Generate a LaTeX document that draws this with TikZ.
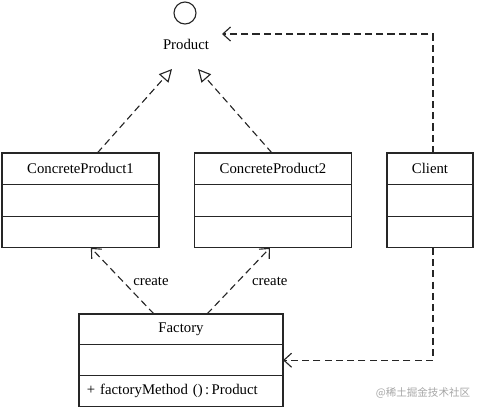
\documentclass[tikz,border=0pt]{standalone}
\usepackage{fontspec}
\setmainfont{Liberation Serif}
\newfontfamily\cjk{Noto Sans CJK SC}
\usetikzlibrary{positioning,arrows.meta}
\tikzset{
  row/.style={draw=black!85, line width=0.8pt, minimum height=0.79cm, inner sep=0pt, outer sep=0pt, font=\fontsize{10.5}{12}\selectfont},
  cprow/.style={row, minimum width=3.925cm},
  clirow/.style={row, minimum width=2.15cm},
  factrow/.style={row, minimum width=5.1cm, minimum height=0.77cm},
  real/.style={draw=black!85, line width=0.8pt, dash pattern=on 5pt off 3pt, -{Triangle[open,length=9pt,width=9pt]}},
  uses/.style={draw=black!85, line width=0.8pt, dash pattern=on 5pt off 3pt, -{Straight Barb[length=5.5pt,width=10pt]}}
}

\begin{document}
\begin{tikzpicture}[x=0.025cm, y=-0.025cm]
  \useasboundingbox (0,0) rectangle (480,410);
  % interface
  \node[draw=black!85, line width=0.8pt, circle, minimum size=0.55cm, inner sep=0pt] (prod) at (185,13) {};
  \node[font=\fontsize{10.5}{12}\selectfont] (ptxt) at (186,44) {Product};
  \coordinate (pin1) at (172,69);
  \coordinate (pin2) at (198,69);
  \coordinate (pk) at (222,34);
  % classes
  \node[cprow, anchor=north] (cp1) at (80.5,153) {ConcreteProduct1};
  \node[cprow, below=0pt of cp1] (cp1a) {};
  \node[cprow, below=0pt of cp1a] (cp1o) {};
  \node[cprow, anchor=north] (cp2) at (273,153) {ConcreteProduct2};
  \node[cprow, below=0pt of cp2] (cp2a) {};
  \node[cprow, below=0pt of cp2a] (cp2o) {};
  \node[clirow, anchor=north] (client) at (430,153) {Client};
  \node[clirow, below=0pt of client] (clienta) {};
  \node[clirow, below=0pt of clienta] (cliento) {};
  \node[factrow, anchor=north] (fact) at (181,314) {Factory};
  \node[factrow, below=0pt of fact] (facta) {};
  \node[factrow, below=0pt of facta, text width=4.7cm, inner xsep=0.2cm, align=left] (facto) {+ factoryMethod ()\,:\,Product};
  % relations
  \draw[real] ([xshift=0.42cm]cp1.north) -- (pin1);
  \draw[real] ([xshift=-0.025cm]cp2.north) -- (pin2);
  \draw[uses] ([xshift=0.075cm]client.north) |- (pk);
  \draw[uses] ([xshift=0.075cm]cliento.south) |- (facta.east);
  \draw[uses] ([xshift=-0.675cm]fact.north) -- node[right=4pt, font=\fontsize{10.5}{12}\selectfont] (c1) {create} ([xshift=0.26cm]cp1o.south);
  \draw[uses] ([xshift=0.65cm]fact.north) -- node[right=6pt, font=\fontsize{10.5}{12}\selectfont] (c2) {create} ([xshift=-0.075cm]cp2o.south);
  % watermark
  \node[font=\cjk\fontsize{7.5}{9}\selectfont, text=black!35] (mark) at (423,393) {@稀土掘金技术社区};
\end{tikzpicture}
\end{document}
